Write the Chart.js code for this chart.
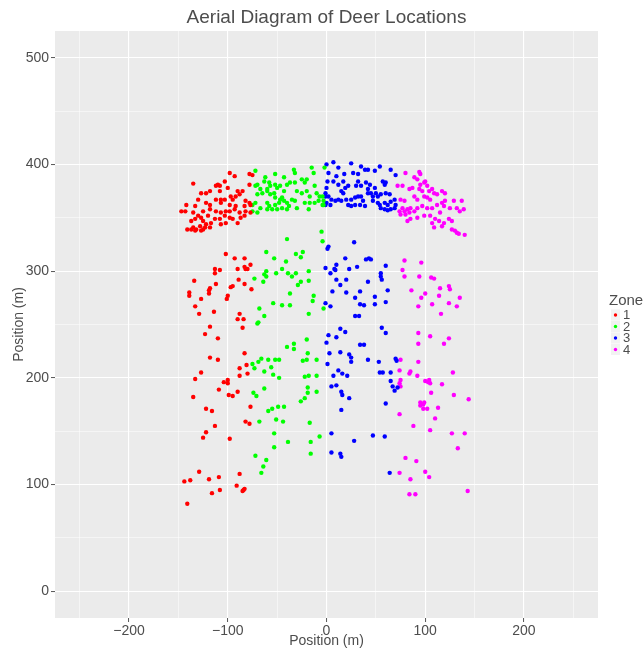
<!DOCTYPE html>
<html>
<head>
<meta charset="utf-8">
<title>Aerial Diagram of Deer Locations</title>
<script src="https://cdn.jsdelivr.net/npm/chart.js@4.4.1/dist/chart.umd.min.js"></script>
<style>
  html, body { margin: 0; padding: 0; background: #fff; }
  #chart { display: block; }
</style>
</head>
<body>
<canvas id="chart" width="644" height="648"></canvas>
<script>
// deer positions [x, y] in metres, one array per zone
var zone1 = [
  [-135,382],[-98,392],[-93,389],[-78,391],[-75,390],[-78,381],[-110,381],[-112,380],[-108,380],[-103,384],
  [-118,375],[-122,373],[-108,375],[-100,378],[-90,375],[-85,375],[-127,373],[-130,367],[-112,367],[-107,367],
  [-103,367],[-97,370],[-95,367],[-88,372],[-92,370],[-82,366],[-78,364],[-122,364],[-142,362],[-133,361],
  [-118,362],[-107,364],[-98,362],[-92,361],[-83,361],[-77,362],[-147,356],[-143,356],[-135,355],[-125,356],
  [-118,358],[-112,356],[-107,355],[-102,356],[-98,356],[-93,358],[-88,355],[-82,356],[-77,355],[-130,352],
  [-127,350],[-120,352],[-113,349],[-108,349],[-103,352],[-98,350],[-95,349],[-87,350],[-83,352],[-137,347],
  [-133,349],[-125,347],[-122,344],[-117,345],[-107,344],[-102,345],[-90,345],[-135,341],[-132,339],[-128,342],
  [-125,339],[-123,341],[-133,338],[-137,339],[-118,341],[-127,338],[-141,339],
  [-102,316],[-93,312],[-83,312],[-77,306],[-83,304],[-82,302],[-80,302],[-90,302],[-113,302],[-113,298],
  [-108,301],[-134,291],[-112,288],[-89,292],[-83,288],[-95,286],[-97,285],[-118,284],[-119,282],[-76,283],
  [-139,280],[-139,277],[-127,274],[-100,277],[-101,274],[-119,279],[-133,267],[-114,262],[-129,260],[-88,260],
  [-84,255],[-90,255],[-118,248],[-85,247],[-123,241],[-110,237],[-83,223],[-118,219],[-110,217],[-88,209],
  [-81,212],[-127,205],[-133,199],[-88,202],[-80,204],[-104,196],[-100,198],[-100,195],[-109,189],[-90,187],
  [-95,183],[-99,184],[-135,182],[-77,173],[-122,171],[-116,169],[-113,155],[-82,159],[-78,157],[-122,149],
  [-125,144],[-98,143],[-129,112],[-144,103],[-138,104],[-119,105],[-109,107],[-88,110],[-91,99],[-84,95],
  [-85,94],[-83,96],[-116,92],[-108,95],[-141,82]
];
var zone2 = [
  [-72,394],[-62,388],[-63,384],[-52,391],[-33,395],[-32,392],[-15,397],[-13,392],[-25,386],[-20,386],
  [-22,383],[-43,388],[-70,381],[-72,380],[-67,377],[-58,383],[-57,380],[-60,377],[-52,381],[-50,378],
  [-47,380],[-40,381],[-37,383],[-32,383],[-12,380],[-70,372],[-65,373],[-60,375],[-57,372],[-53,373],
  [-52,369],[-43,375],[-45,369],[-35,367],[-30,375],[-25,373],[-20,375],[-17,370],[-10,373],[-7,370],
  [-75,362],[-72,364],[-67,359],[-60,364],[-58,361],[-60,358],[-55,358],[-52,362],[-48,364],[-47,367],
  [-43,366],[-40,364],[-38,361],[-50,358],[-45,359],[-40,358],[-32,366],[-30,359],[-22,364],[-17,364],
  [-12,364],[-8,366],[-3,362],[-18,358],[-75,356],[-70,355],[-2,397],[-4,370],[-3,366],[-4,362],
  [-5,337],[-40,330],[-4,328],[-61,318],[-53,312],[-31,316],[-24,318],[-26,313],[-41,309],[-45,302],
  [-51,298],[-39,298],[-61,300],[-63,297],[-61,295],[-31,298],[-35,295],[-73,293],[-64,290],[-18,300],
  [-18,291],[-26,290],[-29,287],[-37,279],[-13,277],[-14,272],[-54,270],[-45,268],[-37,268],[-68,265],
  [-63,258],[-3,265],[-18,260],[-70,251],[-69,252],[-40,229],[-33,232],[-33,227],[-20,236],[-19,223],
  [-75,213],[-73,209],[-69,215],[-66,218],[-59,217],[-63,206],[-52,217],[-48,217],[-56,210],[-54,203],
  [-48,200],[-24,216],[-20,217],[-10,217],[-18,202],[-22,201],[-10,202],[-63,190],[-74,186],[-71,183],
  [-19,191],[-19,186],[-10,187],[-22,181],[-26,178],[-43,173],[-49,173],[-55,171],[-59,169],[-68,159],
  [-51,161],[-44,159],[-17,158],[-53,148],[-39,140],[-16,140],[-7,145],[-53,135],[-72,127],[-61,123],
  [-64,117],[-66,111],[-16,129]
];
var zone3 = [
  [7,402],[25,401],[35,398],[42,395],[54,398],[65,395],[70,390],[2,392],[12,397],[10,389],
  [18,391],[27,392],[32,391],[39,395],[49,394],[7,384],[12,381],[17,384],[19,378],[22,380],
  [32,384],[30,380],[35,380],[40,383],[44,381],[42,377],[57,384],[60,383],[59,381],[49,378],
  [50,373],[-1,373],[2,370],[5,367],[9,366],[0,364],[-1,362],[4,362],[-1,370],[15,375],
  [17,373],[12,367],[15,366],[20,367],[25,367],[29,369],[32,370],[35,370],[37,366],[42,373],
  [45,373],[47,370],[52,370],[55,372],[60,373],[64,372],[22,362],[25,361],[29,362],[34,362],
  [39,361],[47,366],[52,364],[54,362],[59,364],[62,362],[65,365],[69,367],[70,362],[55,359],
  [59,358],[62,357],[65,358],[69,359],[0,400],[1,384],[0,378],
  [2,323],[1,321],[28,327],[19,312],[40,311],[43,312],[45,311],[-1,303],[4,298],[8,302],
  [9,301],[10,306],[23,302],[31,304],[60,305],[55,298],[55,295],[56,292],[10,292],[20,292],
  [42,290],[14,287],[6,281],[20,280],[34,281],[62,282],[29,275],[49,276],[60,271],[-1,270],
  [4,267],[34,269],[38,268],[49,269],[29,258],[33,258],[14,246],[56,247],[19,243],[2,240],
  [10,238],[0,233],[34,231],[38,231],[60,242],[3,223],[14,224],[23,222],[25,219],[25,215],
  [42,217],[53,215],[70,218],[71,216],[1,213],[12,207],[16,204],[21,202],[7,202],[54,205],
  [57,205],[65,205],[5,192],[10,193],[65,197],[67,192],[72,191],[69,188],[15,187],[16,184],
  [23,181],[60,176],[15,170],[5,148],[28,141],[47,146],[59,145],[5,130],[14,129],[15,126],
  [64,111]
];
var zone4 = [
  [80,392],[94,393],[95,391],[89,388],[92,386],[72,380],[77,380],[84,377],[87,378],[95,381],
  [99,383],[102,380],[100,384],[94,377],[97,375],[104,375],[107,377],[109,373],[112,372],[117,375],
  [120,373],[89,370],[92,367],[99,370],[102,369],[105,367],[75,367],[79,366],[77,359],[74,356],
  [79,356],[82,358],[85,359],[75,353],[80,353],[84,355],[89,356],[92,359],[97,361],[102,359],
  [107,359],[112,362],[117,364],[120,366],[119,361],[129,366],[137,366],[125,359],[132,359],[135,356],
  [139,358],[92,350],[99,352],[105,352],[110,349],[115,355],[114,347],[119,345],[124,349],[127,347],
  [107,345],[109,341],[117,342],[127,339],[130,338],[132,336],[140,334],[85,349],[82,347],[134,335],
  [79,310],[96,308],[77,301],[79,295],[94,295],[106,294],[109,293],[86,282],[100,279],[96,275],
  [115,284],[124,286],[125,283],[114,277],[135,275],[93,267],[107,269],[124,270],[132,267],[116,260],
  [93,242],[105,239],[119,232],[124,237],[93,232],[75,217],[93,215],[74,207],[84,204],[85,206],
  [75,198],[74,195],[75,192],[92,202],[128,205],[100,197],[104,198],[105,195],[103,196],[117,194],
  [106,186],[129,184],[144,180],[95,177],[98,175],[95,174],[99,177],[98,171],[102,171],[113,172],
  [74,166],[110,162],[88,155],[105,151],[127,148],[140,148],[133,134],[80,125],[91,122],[74,111],
  [100,112],[104,107],[85,105],[143,94],[84,91],[90,91]
];

var zoneNames = ['1', '2', '3', '4'];
var zoneColors = ['#FF0000', '#00FF00', '#0000FF', '#FF00FF'];
var xGrid = [-250, -200, -150, -100, -50, 0, 50, 100, 150, 200, 250];
var yGrid = [0, 50, 100, 150, 200, 250, 300, 350, 400, 450, 500];

var FONT = '"Liberation Sans", Arial, sans-serif';
var TEXT = '#4d4d4d';

function toPoints(arr) {
    return arr.map(function(p) { return { x: p[0], y: p[1] }; });
}

function fmt(v) {
    return v < 0 ? '\u2212' + Math.abs(v) : '' + v;
}

function gridWidth(ctx) {
    var v = ctx.tick ? ctx.tick.value : 0;
    return v % 100 === 0 ? 1.1 : 0.5;
}

function tickColor(ctx) {
    var v = ctx.tick ? ctx.tick.value : 0;
    return v % 100 === 0 ? '#555555' : 'rgba(0,0,0,0)';
}

function setTicks(values) {
    return function(scale) {
        scale.ticks = values.map(function(v) { return { value: v }; });
    };
}

// grey panel behind the grid, like ggplot
var panelBg = {
    id: 'panelBg',
    beforeDraw: function(chart) {
        var c = chart.ctx, a = chart.chartArea;
        c.save();
        c.fillStyle = '#ffffff';
        c.fillRect(0, 0, chart.width, chart.height);
        c.fillStyle = '#EBEBEB';
        c.fillRect(a.left, a.top, a.right - a.left, a.bottom - a.top);
        c.restore();
    }
};

// titles and the Zone legend
var texts = {
    id: 'texts',
    afterDraw: function(chart) {
        var c = chart.ctx, a = chart.chartArea;
        var mid = (a.left + a.right) / 2;
        c.save();
        c.fillStyle = TEXT;
        c.textAlign = 'center';
        c.textBaseline = 'middle';
        c.font = '19px ' + FONT;
        c.fillText('Aerial Diagram of Deer Locations', mid, 18);
        c.font = '14px ' + FONT;
        c.fillText('Position (m)', mid, 641);
        c.save();
        c.translate(19, (a.top + a.bottom) / 2);
        c.rotate(-Math.PI / 2);
        c.fillText('Position (m)', 0, 0);
        c.restore();

        c.textAlign = 'left';
        c.font = '15px ' + FONT;
        c.fillText('Zone', 609, 301);
        c.font = '13px ' + FONT;
        for (var i = 0; i < zoneNames.length; i++) {
            var y = 315 + i * 11.5;
            c.fillStyle = '#F2F2F2';
            c.fillRect(611, y - 5.5, 9, 11);
            c.fillStyle = zoneColors[i];
            c.beginPath();
            c.arc(615.5, y, 1.7, 0, Math.PI * 2);
            c.fill();
            c.fillStyle = TEXT;
            c.fillText(zoneNames[i], 623, y + 0.5);
        }
        c.restore();
    }
};

var datasets = [zone1, zone2, zone3, zone4].map(function(z, i) {
    return {
        label: zoneNames[i],
        data: toPoints(z),
        backgroundColor: zoneColors[i],
        borderWidth: 0,
        pointRadius: 2.2,
        pointHoverRadius: 2.2
    };
});

var ctx = document.getElementById('chart').getContext('2d');
new Chart(ctx, {
    type: 'scatter',
    data: { datasets: datasets },
    options: {
        responsive: false,
        animation: false,
        devicePixelRatio: 1,
        layout: { padding: { top: 31, right: 46, left: 0, bottom: 0 } },
        plugins: {
            legend: { display: false },
            title: { display: false },
            tooltip: { enabled: false }
        },
        scales: {
            x: {
                type: 'linear',
                bounds: 'data',
                min: -275,
                max: 275,
                afterBuildTicks: setTicks(xGrid),
                afterFit: function(s) { s.height = 30; },
                border: { display: false },
                grid: {
                    color: '#ffffff',
                    lineWidth: gridWidth,
                    drawTicks: true,
                    tickLength: 4,
                    tickWidth: 1,
                    tickColor: tickColor
                },
                ticks: {
                    autoSkip: false,
                    maxRotation: 0,
                    padding: 1,
                    color: TEXT,
                    font: { family: FONT, size: 14 },
                    callback: function(v) { return v % 100 === 0 ? fmt(v) : ''; }
                }
            },
            y: {
                type: 'linear',
                bounds: 'data',
                min: -25,
                max: 525,
                afterBuildTicks: setTicks(yGrid),
                afterFit: function(s) { s.width = 55; },
                border: { display: false },
                grid: {
                    color: '#ffffff',
                    lineWidth: gridWidth,
                    drawTicks: true,
                    tickLength: 4,
                    tickWidth: 1,
                    tickColor: tickColor
                },
                ticks: {
                    autoSkip: false,
                    padding: 2,
                    color: TEXT,
                    font: { family: FONT, size: 14 },
                    callback: function(v) { return v % 100 === 0 ? fmt(v) : ''; }
                }
            }
        }
    },
    plugins: [panelBg, texts]
});
</script>
</body>
</html>
